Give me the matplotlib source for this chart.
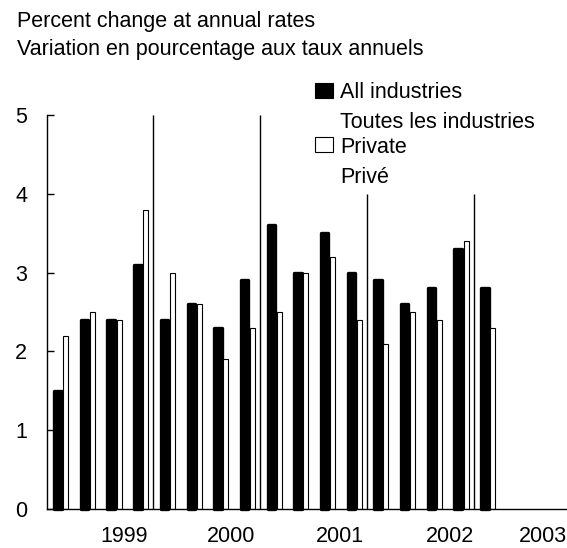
import matplotlib
matplotlib.use('Agg')
import numpy as np
import matplotlib.pyplot as plt
from matplotlib.patches import Rectangle

# Quarterly values, percent change at annual rates
all_industries = [1.5, 2.4, 2.4, 3.1, 2.4, 2.6, 2.3, 2.9, 3.6,
                  3.0, 3.5, 3.0, 2.9, 2.6, 2.8, 3.3, 2.8]
private = [2.2, 2.5, 2.4, 3.8, 3.0, 2.6, 1.9, 2.3, 2.5,
           3.0, 3.2, 2.4, 2.1, 2.5, 2.4, 3.4, 2.3]
years = ['1999', '2000', '2001', '2002', '2003']
year_pos = [2.9, 6.9, 11.0, 15.1, 18.6]
year_lines = [4, 8, 12, 16]
line_tops = [5, 5, 4, 4]

plt.rcParams['font.family'] = ['Liberation Sans', 'DejaVu Sans']
FS = 15.5
W, H = 567, 548
fig = plt.figure(figsize=(W / 100, H / 100), dpi=100)
ax = fig.add_axes([46.7 / W, 39 / H, 1 - 46.7 / W, 394 / H])

x = np.arange(len(all_industries))
ax.bar(x + 0.418, all_industries, width=0.28, color='black', edgecolor='black',
       linewidth=2.4, joinstyle='round', clip_on=False)
ax.bar(x + 0.715, private, width=0.187, color='white', edgecolor='black',
       linewidth=0.8)
ax.vlines(year_lines, 0, line_tops, color='black', linewidth=1)

ax.set_xlim(0, 19.5)
ax.set_ylim(0, 5)
ax.spines['top'].set_visible(False)
ax.spines['right'].set_visible(False)
ax.spines['left'].set_linewidth(1)
ax.spines['bottom'].set_linewidth(1)
ax.set_yticks(range(6))
ax.tick_params(axis='y', direction='in', length=5, width=1, pad=14, labelsize=FS)
ax.set_xticks(year_pos, years)
ax.tick_params(axis='x', length=0, pad=12, labelsize=FS)

# titles
fig.text(17 / W, 1 - 26.5 / H, 'Percent change at annual rates', fontsize=FS, va='baseline')
fig.text(17 / W, 1 - 55 / H, 'Variation en pourcentage aux taux annuels', fontsize=FS, va='baseline')

# legend
fig.add_artist(Rectangle((315 / W, 1 - 98.3 / H), 18 / W, 15.6 / H,
                         transform=fig.transFigure, facecolor='black', edgecolor='black', linewidth=0.8))
fig.add_artist(Rectangle((315 / W, 1 - 152.3 / H), 18 / W, 15.6 / H,
                         transform=fig.transFigure, facecolor='white', edgecolor='black', linewidth=0.8))
for label, base in [('All industries', 98), ('Toutes les industries', 128),
                    ('Private', 153), ('Privé', 183)]:
    fig.text(340 / W, 1 - base / H, label, fontsize=FS, va='baseline')

fig.savefig('out.png', dpi=100)
